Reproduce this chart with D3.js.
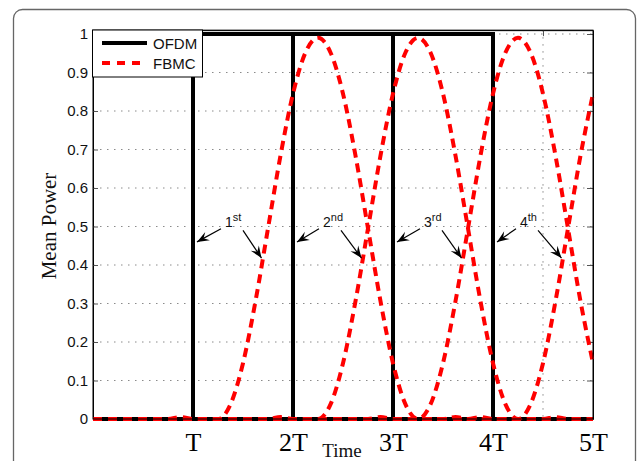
<!DOCTYPE html>
<html>
<head>
<meta charset="utf-8">
<script src="https://cdn.jsdelivr.net/npm/d3@7"></script>
<style>
  body { margin: 0; background: #fff; }
  svg { display: block; }
</style>
</head>
<body>
<div id="chart"></div>
<script>
// sample times, in symbol periods T
const time = [0, 0.125, 0.25, 0.375, 0.5, 0.625, 0.75, 0.875, 1, 1.125, 1.25, 1.375, 1.5, 1.625, 1.75, 1.875,
              2, 2.125, 2.25, 2.375, 2.5, 2.625, 2.75, 2.875, 3, 3.125, 3.25, 3.375, 3.5, 3.625, 3.75, 3.875,
              4, 4.125, 4.25, 4.375, 4.5, 4.625, 4.75, 4.875, 5];

// FBMC pulses (mean power), one per symbol
const fbmc1 = [0, 0, 0, 0, 0, 0, 0, 0.005, 0, 0,
               0, 0.038, 0.145, 0.306, 0.495, 0.684, 0.845, 0.952, 0.99, 0.952, 0.845, 0.684, 0.495, 0.306, 0.145, 0.038, 0,
               0, 0, 0.005, 0, 0, 0, 0, 0, 0, 0, 0, 0, 0, 0];
const fbmc2 = [0, 0, 0, 0, 0, 0, 0, 0, 0, 0, 0, 0, 0, 0, 0, 0.005, 0, 0,
               0, 0.038, 0.145, 0.306, 0.495, 0.684, 0.845, 0.952, 0.99, 0.952, 0.845, 0.684, 0.495, 0.306, 0.145, 0.038, 0,
               0, 0, 0.005, 0, 0, 0];
const fbmc3 = [0, 0, 0, 0, 0, 0, 0, 0, 0, 0, 0, 0, 0, 0, 0, 0, 0, 0, 0, 0, 0, 0, 0, 0.005, 0, 0,
               0, 0.038, 0.145, 0.306, 0.495, 0.684, 0.845, 0.952, 0.99, 0.952, 0.845, 0.684, 0.495, 0.306, 0.145];
const fbmc4 = [0, 0, 0, 0, 0, 0, 0, 0, 0, 0, 0, 0, 0, 0, 0, 0, 0, 0, 0, 0, 0, 0, 0, 0, 0, 0, 0, 0, 0, 0, 0, 0.005, 0, 0,
               0, 0.038, 0.145, 0.306, 0.495, 0.684, 0.845];

// OFDM rectangular symbols
const ofdmTime = [0, 1, 1, 2, 2, 3, 3, 4, 4, 5];
const ofdm1 = [0, 0, 1, 1, 0, 0, 0, 0, 0, 0];
const ofdm2 = [0, 0, 0, 0, 1, 1, 0, 0, 0, 0];
const ofdm3 = [0, 0, 0, 0, 0, 0, 1, 1, 0, 0];

const xTicks = [1, 2, 3, 4, 5];
const xTickLabels = ["T", "2T", "3T", "4T", "5T"];
const xGrid = [4.5];
const yTicks = [0, 0.1, 0.2, 0.3, 0.4, 0.5, 0.6, 0.7, 0.8, 0.9, 1];

// annotations: symbol edge, label start, number, ordinal suffix
const annEdge = [1, 2, 3, 4];
const annX = [1.32, 2.30, 3.31, 4.27];
const annNum = ["1", "2", "3", "4"];
const annSup = ["st", "nd", "rd", "th"];

const W = 637, H = 461;
const left = 93, right = 593, bottom = 419;

const svg = d3.select("#chart").append("svg")
    .attr("width", W)
    .attr("height", H);

svg.append("rect").attr("width", W).attr("height", H).attr("fill", "#fff");

// outer frame (rounded, runs off the bottom)
svg.append("rect")
    .attr("x", 13.5).attr("y", 9.5)
    .attr("width", 622).attr("height", 480)
    .attr("rx", 9)
    .attr("fill", "none")
    .attr("stroke", "#666")
    .attr("stroke-width", 1.3);

const x = d3.scaleLinear().domain([0, 5]).range([left, right]);
const y = d3.scaleLinear().domain([0, 1.01]).range([bottom, bottom - 385 * 1.01]);

const g = svg.append("g");

// grid
g.selectAll(".hgrid").data(yTicks).enter().append("line")
    .attr("x1", left).attr("x2", right)
    .attr("y1", d => y(d)).attr("y2", d => y(d))
    .attr("stroke", "#8a8a8a")
    .attr("stroke-width", 1)
    .attr("stroke-dasharray", "1.5,5.5");
g.selectAll(".vgrid").data(xGrid).enter().append("line")
    .attr("x1", d => x(d)).attr("x2", d => x(d))
    .attr("y1", y(1.01)).attr("y2", bottom)
    .attr("stroke", "#8a8a8a")
    .attr("stroke-width", 1)
    .attr("stroke-dasharray", "1.5,5.5");

// axes
const yAxis = g.append("g")
    .attr("transform", `translate(${left},0)`)
    .call(d3.axisLeft(y).tickValues(yTicks).tickFormat(d3.format("~g")).tickSizeInner(-5).tickSizeOuter(0).tickPadding(5));
const yAxisR = g.append("g")
    .attr("transform", `translate(${right},0)`)
    .call(d3.axisRight(y).tickValues(yTicks).tickFormat("").tickSizeInner(-6).tickSizeOuter(0));
const xAxisT = g.append("g")
    .attr("transform", `translate(0,${y(1.01)})`)
    .call(d3.axisTop(x).tickValues(xGrid).tickFormat("").tickSizeInner(-6).tickSizeOuter(0));
const xAxis = g.append("g")
    .attr("transform", `translate(0,${bottom})`)
    .call(d3.axisBottom(x).tickValues(xTicks).tickFormat((d, i) => xTickLabels[i]).tickSizeInner(0).tickSizeOuter(0).tickPadding(13.5));

[yAxis, yAxisR, xAxisT, xAxis].forEach(a => {
    a.select(".domain").attr("stroke", "#000").attr("stroke-width", 1);
    a.selectAll(".tick line").attr("stroke", "#555");
});
yAxis.selectAll("text")
    .style("font-family", "'Liberation Sans', Arial, sans-serif")
    .style("font-size", "15px")
    .attr("fill", "#111");
xAxis.selectAll("text")
    .style("font-family", "'Liberation Serif', 'Times New Roman', serif")
    .style("font-size", "26px")
    .attr("fill", "#000");

const line = d3.line().x(d => x(d[0])).y(d => y(d[1]));
const smooth = d3.line().x(d => x(d[0])).y(d => y(d[1])).curve(d3.curveMonotoneX);

// OFDM
[ofdm1, ofdm2, ofdm3].forEach(s => {
    g.append("path")
        .datum(ofdmTime.map((t, i) => [t, s[i]]))
        .attr("d", line)
        .attr("fill", "none")
        .attr("stroke", "#000")
        .attr("stroke-width", 4)
        .attr("stroke-linejoin", "miter");
});

// FBMC
[fbmc1, fbmc2, fbmc3, fbmc4].forEach(s => {
    g.append("path")
        .datum(time.map((t, i) => [t, s[i]]))
        .attr("d", smooth)
        .attr("fill", "none")
        .attr("stroke", "#ff0000")
        .attr("stroke-width", 4)
        .attr("stroke-dasharray", "9,6");
});

// axes box
g.append("rect")
    .attr("x", left).attr("y", y(1.01))
    .attr("width", right - left).attr("height", bottom - y(1.01))
    .attr("fill", "none").attr("stroke", "#000").attr("stroke-width", 1);

// arrow heads
const head = d3.path();
head.moveTo(0, 0); head.lineTo(-12, -4.8); head.lineTo(-7.5, 0); head.lineTo(-12, 4.8); head.closePath();

function arrow(x0, y0, x1, y1) {
    const ang = Math.atan2(y(y1) - y(y0), x(x1) - x(x0)) * 180 / Math.PI;
    g.append("line")
        .attr("x1", x(x0)).attr("y1", y(y0))
        .attr("x2", x(x1)).attr("y2", y(y1))
        .attr("stroke", "#000").attr("stroke-width", 1.2);
    g.append("path")
        .attr("d", head.toString())
        .attr("transform", `translate(${x(x1)},${y(y1)}) rotate(${ang})`)
        .attr("fill", "#000");
}

annEdge.forEach((k, i) => {
    const t = g.append("text")
        .attr("x", x(annX[i]))
        .attr("y", y(0.5))
        .style("font-family", "'Liberation Sans', Arial, sans-serif")
        .style("font-size", "14px")
        .attr("fill", "#111");
    t.append("tspan").text(annNum[i]);
    t.append("tspan").attr("dy", -6).style("font-size", "11px").text(annSup[i]);

    arrow(annX[i] - 0.04, 0.494, k + 0.04, 0.46);
    arrow(annX[i] + 0.18, 0.49, k + 0.685, 0.418);
});

// legend
const lg = svg.append("g");
lg.append("rect")
    .attr("x", 92.5).attr("y", 30)
    .attr("width", 110).attr("height", 47)
    .attr("fill", "#fff").attr("stroke", "#000").attr("stroke-width", 1);
const legendItems = [["OFDM", "#000", null], ["FBMC", "#ff0000", "8,7"]];
legendItems.forEach((d, i) => {
    const ly = 43 + i * 20;
    lg.append("line")
        .attr("x1", 102).attr("x2", 147)
        .attr("y1", ly).attr("y2", ly)
        .attr("stroke", d[1]).attr("stroke-width", 4)
        .attr("stroke-dasharray", d[2]);
    lg.append("text")
        .attr("x", 153).attr("y", ly + 5.5)
        .style("font-family", "'Liberation Sans', Arial, sans-serif")
        .style("font-size", "15px")
        .attr("fill", "#111")
        .text(d[0]);
});

// axis titles
svg.append("text")
    .attr("transform", "translate(56,226) rotate(-90)")
    .attr("text-anchor", "middle")
    .style("font-family", "'Liberation Serif', 'Times New Roman', serif")
    .style("font-size", "21px")
    .attr("fill", "#111")
    .text("Mean Power");
svg.append("text")
    .attr("x", 342).attr("y", 457)
    .attr("text-anchor", "middle")
    .style("font-family", "'Liberation Serif', 'Times New Roman', serif")
    .style("font-size", "19px")
    .attr("fill", "#111")
    .text("Time");
</script>
</body>
</html>
